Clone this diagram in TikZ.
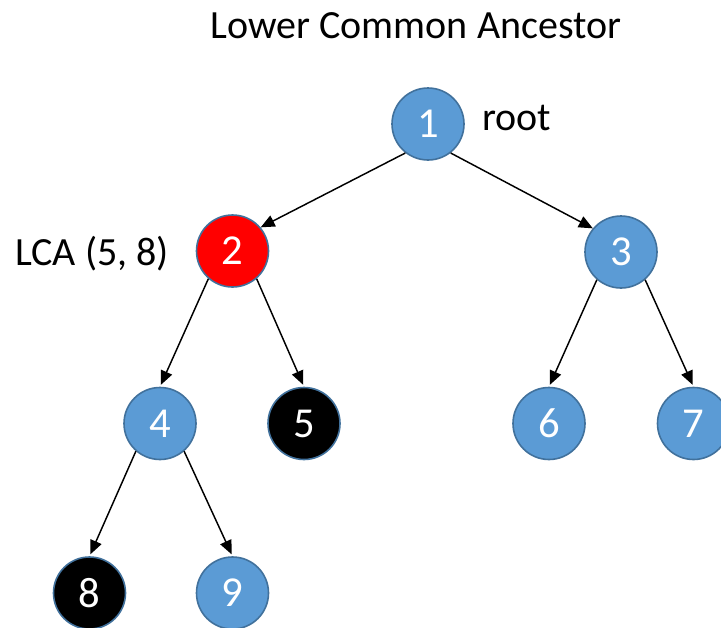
\documentclass[tikz,border=0pt]{standalone}
\usepackage{fontspec}
\setmainfont{Carlito}
\usetikzlibrary{arrows.meta}
\definecolor{nodeblue}{HTML}{5B9BD5}
\definecolor{rimblue}{HTML}{41719C}
\begin{document}
\begin{tikzpicture}[x=0.75pt,y=-0.75pt,
  treenode/.style={circle, draw=rimblue, line width=1.2pt, minimum size=54pt, inner sep=0pt, text=white, font=\fontsize{32}{38}\selectfont, fill=nodeblue},
  rednode/.style={treenode, fill=red},
  blacknode/.style={treenode, fill=black},
  label/.style={font=\fontsize{30}{36}\selectfont, text=black, inner sep=0pt},
  edge/.style={draw=black, line width=1.1pt, -{Triangle[length=10.5pt,width=9pt]}}]
\useasboundingbox (0,0) rectangle (721,628);
\node[label, anchor=base] (title) at (416,38) {Lower Common Ancestor};
\node[treenode] (n1) at (428,124) {1};
\node[rednode] (n2) at (232.5,251) {2};
\node[treenode] (n3) at (621,252) {3};
\node[treenode] (n4) at (160,423.5) {4};
\node[blacknode] (n5) at (304,423.5) {5};
\node[treenode] (n6) at (549,423.5) {6};
\node[treenode] (n7) at (693.5,423.5) {7};
\node[blacknode] (n8) at (89.5,593) {8};
\node[treenode] (n9) at (232.5,593) {9};
\node[label, anchor=base west] (root) at (482,130) {root};
\node[label, anchor=base west] (lca) at (15,265) {LCA (5, 8)};
\draw[edge] (n1.-128) -- (n2.40);
\draw[edge] (n1.-52) -- (n3.140);
\draw[edge, shorten >=1.5pt] (n2.-131) -- (n4.north);
\draw[edge, shorten >=1.5pt] (n2.-49) -- (n5.north);
\draw[edge, shorten >=1.5pt] (n3.-131) -- (n6.north);
\draw[edge, shorten >=1.5pt] (n3.-49) -- (n7.north);
\draw[edge, shorten >=1.5pt] (n4.-131) -- (n8.north);
\draw[edge, shorten >=1.5pt] (n4.-49) -- (n9.north);
\end{tikzpicture}
\end{document}
